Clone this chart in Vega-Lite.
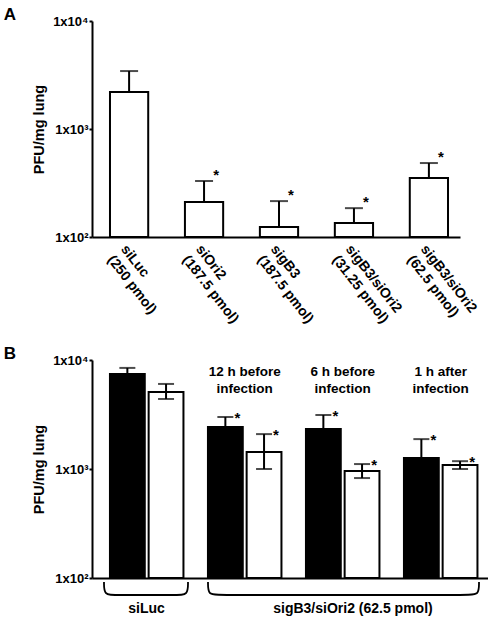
{
  "$schema": "https://vega.github.io/schema/vega-lite/v6.json",
  "padding": {"left": 3, "top": 6, "right": 0, "bottom": 0},
  "background": "white",
  "config": {
    "font": "Liberation Sans",
    "view": {"stroke": null},
    "axis": {
      "grid": false,
      "domainColor": "black",
      "domainWidth": 2,
      "tickColor": "black",
      "tickWidth": 2,
      "tickSize": 3,
      "labelColor": "black",
      "labelFontWeight": "bold",
      "labelFontSize": 13,
      "titleColor": "black",
      "titleFontWeight": "bold",
      "titleFontSize": 14.5
    },
    "title": {"fontSize": 17, "fontWeight": "bold", "color": "black", "anchor": "start", "frame": "bounds", "offset": -9}
  },
  "datasets": {
    "panelA": [
      {"label": "siLuc\n(250 pmol)", "mean": 2200, "upper": 3440, "star": ""},
      {"label": "siOri2\n(187.5 pmol)", "mean": 211, "upper": 330, "star": "*"},
      {"label": "sigB3\n(187.5 pmol)", "mean": 124, "upper": 215, "star": "*"},
      {"label": "sigB3/siOri2\n(31.25 pmol)", "mean": 135, "upper": 185, "star": "*"},
      {"label": "sigB3/siOri2\n(62.5 pmol)", "mean": 352, "upper": 484, "star": "*"}
    ],
    "panelB": [
      {"group": "siLuc", "series": "black", "mean": 7450, "lower": null, "upper": 8460, "star": ""},
      {"group": "siLuc", "series": "white", "mean": 5080, "lower": 4390, "upper": 6030, "star": ""},
      {"group": "12h", "series": "black", "mean": 2430, "lower": null, "upper": 3000, "star": "*"},
      {"group": "12h", "series": "white", "mean": 1430, "lower": 1000, "upper": 2090, "star": "*"},
      {"group": "6h", "series": "black", "mean": 2330, "lower": null, "upper": 3130, "star": "*"},
      {"group": "6h", "series": "white", "mean": 959, "lower": 826, "upper": 1110, "star": "*"},
      {"group": "1h", "series": "black", "mean": 1260, "lower": null, "upper": 1880, "star": "*"},
      {"group": "1h", "series": "white", "mean": 1090, "lower": 1000, "upper": 1180, "star": "*"}
    ],
    "groupNotes": [
      {"group": "12h", "note": "12 h before\ninfection"},
      {"group": "6h", "note": "6 h before\ninfection"},
      {"group": "1h", "note": "1 h after\ninfection"}
    ],
    "brackets": [
      {"bracket": 1, "i": 0, "pos": 0.1224, "depth": -1.8},
      {"bracket": 1, "i": 1, "pos": 0.1224, "depth": -7.8},
      {"bracket": 1, "i": 2, "pos": 0.2324, "depth": -7.8},
      {"bracket": 1, "i": 3, "pos": 0.8696, "depth": -7.8},
      {"bracket": 1, "i": 4, "pos": 0.9796, "depth": -7.8},
      {"bracket": 1, "i": 5, "pos": 0.9796, "depth": -1.8},
      {"bracket": 2, "i": 0, "pos": 1.1837, "depth": -1.8},
      {"bracket": 2, "i": 1, "pos": 1.1837, "depth": -7.8},
      {"bracket": 2, "i": 2, "pos": 1.2937, "depth": -7.8},
      {"bracket": 2, "i": 3, "pos": 3.839, "depth": -7.8},
      {"bracket": 2, "i": 4, "pos": 3.949, "depth": -7.8},
      {"bracket": 2, "i": 5, "pos": 3.949, "depth": -1.8}
    ],
    "bracketLabels": [
      {"text": "siLuc", "pos": 0.556, "depth": -16},
      {"text": "sigB3/siOri2 (62.5 pmol)", "pos": 2.663, "depth": -16}
    ]
  },
  "spacing": 19,
  "vconcat": [
    {
      "title": {"text": "A", "dx": -28},
      "width": 368,
      "height": 216,
      "data": {"name": "panelA"},
      "encoding": {
        "x": {
          "field": "label",
          "type": "nominal",
          "sort": null,
          "scale": {"paddingInner": 0.49, "paddingOuter": 0.2, "align": 0.6},
          "axis": {
            "title": null,
            "ticks": false,
            "labelAngle": 52,
            "labelAlign": "left",
            "labelBaseline": "top",
            "labelPadding": 5,
            "labelFontSize": 14,
            "labelLineHeight": 17,
            "labelLimit": 300,
            "labelExpr": "split(datum.label, '\\n')"
          }
        }
      },
      "layer": [
        {
          "mark": {"type": "bar", "fill": "white", "stroke": "black", "strokeWidth": 2},
          "encoding": {
            "y": {
              "field": "mean",
              "type": "quantitative",
              "scale": {"type": "log", "domain": [100, 10000], "nice": false},
              "axis": {
                "values": [100, 1000, 10000],
                "labelPadding": 1,
                "titlePadding": 6,
                "labelExpr": "datum.value >= 10000 ? '1x10\u2074' : datum.value >= 1000 ? '1x10\u00b3' : '1x10\u00b2'"
              },
              "title": "PFU/mg lung"
            },
            "y2": {"datum": 100}
          }
        },
        {
          "mark": {"type": "rule", "color": "black", "strokeWidth": 2},
          "encoding": {
            "y": {"field": "mean", "type": "quantitative"},
            "y2": {"field": "upper"}
          }
        },
        {
          "mark": {"type": "tick", "color": "black", "size": 18, "thickness": 2},
          "encoding": {
            "y": {"field": "upper", "type": "quantitative"}
          }
        },
        {
          "transform": [{"filter": "datum.star != ''"}],
          "mark": {"type": "text", "fontSize": 15, "fontWeight": "bold", "color": "black", "align": "center", "baseline": "alphabetic", "dx": 12, "dy": -1},
          "encoding": {
            "y": {"field": "upper", "type": "quantitative"},
            "text": {"field": "star"}
          }
        }
      ]
    },
    {
      "title": {"text": "B", "dx": -28},
      "width": 396,
      "height": 218,
      "resolve": {"scale": {"x": "independent", "y": "independent"}},
      "layer": [
        {
          "layer": [
            {
              "data": {"name": "panelB"},
              "mark": {"type": "bar", "stroke": "black", "strokeWidth": 2},
              "encoding": {
                "x": {
                  "field": "group",
                  "type": "nominal",
                  "scale": {"domain": ["siLuc", "12h", "6h", "1h"], "paddingInner": 0.25, "paddingOuter": 0.1454, "align": 0.63},
                  "axis": {"title": null, "labels": false, "ticks": false}
                },
                "xOffset": {
                  "field": "series",
                  "type": "nominal",
                  "scale": {"domain": ["black", "white"], "paddingInner": 0.1, "paddingOuter": 0}
                },
                "y": {
                  "field": "mean",
                  "type": "quantitative",
                  "scale": {"type": "log", "domain": [100, 10000], "nice": false},
                  "axis": {
                    "values": [100, 1000, 10000],
                    "labelPadding": 1,
                    "titlePadding": 6,
                    "labelExpr": "datum.value >= 10000 ? '1x10\u2074' : datum.value >= 1000 ? '1x10\u00b3' : '1x10\u00b2'"
                  },
                  "title": "PFU/mg lung"
                },
                "y2": {"datum": 100},
                "color": {
                  "field": "series",
                  "type": "nominal",
                  "scale": {"domain": ["black", "white"], "range": ["black", "white"]},
                  "legend": null
                }
              }
            },
            {
              "data": {"name": "panelB"},
              "mark": {"type": "rule", "color": "black", "strokeWidth": 2},
              "encoding": {
                "x": {"field": "group", "type": "nominal"},
                "xOffset": {"field": "series", "type": "nominal"},
                "y": {"field": "mean", "type": "quantitative"},
                "y2": {"field": "upper"}
              }
            },
            {
              "data": {"name": "panelB"},
              "transform": [{"filter": "isValid(datum.lower)"}],
              "mark": {"type": "rule", "color": "black", "strokeWidth": 2},
              "encoding": {
                "x": {"field": "group", "type": "nominal"},
                "xOffset": {"field": "series", "type": "nominal"},
                "y": {"field": "lower", "type": "quantitative"},
                "y2": {"field": "mean"}
              }
            },
            {
              "data": {"name": "panelB"},
              "mark": {"type": "tick", "color": "black", "size": 16, "thickness": 2},
              "encoding": {
                "x": {"field": "group", "type": "nominal"},
                "xOffset": {"field": "series", "type": "nominal"},
                "y": {"field": "upper", "type": "quantitative"}
              }
            },
            {
              "data": {"name": "panelB"},
              "transform": [{"filter": "isValid(datum.lower)"}],
              "mark": {"type": "tick", "color": "black", "size": 16, "thickness": 2},
              "encoding": {
                "x": {"field": "group", "type": "nominal"},
                "xOffset": {"field": "series", "type": "nominal"},
                "y": {"field": "lower", "type": "quantitative"}
              }
            },
            {
              "data": {"name": "panelB"},
              "transform": [{"filter": "datum.star != ''"}],
              "mark": {"type": "text", "fontSize": 15, "fontWeight": "bold", "color": "black", "align": "center", "baseline": "alphabetic", "dx": 12, "dy": 6},
              "encoding": {
                "x": {"field": "group", "type": "nominal"},
                "xOffset": {"field": "series", "type": "nominal"},
                "y": {"field": "upper", "type": "quantitative"},
                "text": {"field": "star"}
              }
            },
            {
              "data": {"name": "groupNotes"},
              "mark": {"type": "text", "fontSize": 13.5, "fontWeight": "bold", "color": "black", "align": "center", "baseline": "alphabetic", "lineBreak": "\n", "lineHeight": 17},
              "encoding": {
                "x": {"field": "group", "type": "nominal"},
                "y": {"datum": 7130},
                "text": {"field": "note"}
              }
            }
          ]
        },
        {
          "layer": [
            {
              "data": {"name": "brackets"},
              "mark": {"type": "line", "color": "black", "strokeWidth": 1.8, "interpolate": "basis", "clip": false},
              "encoding": {
                "x": {"field": "pos", "type": "quantitative", "scale": {"domain": [0, 4.0408], "nice": false, "zero": false}, "axis": null},
                "y": {"field": "depth", "type": "quantitative", "scale": {"domain": [0, 100], "nice": false, "zero": false}, "axis": null},
                "detail": {"field": "bracket"},
                "order": {"field": "i"}
              }
            },
            {
              "data": {"name": "bracketLabels"},
              "mark": {"type": "text", "fontSize": 14, "fontWeight": "bold", "color": "black", "align": "center", "baseline": "alphabetic"},
              "encoding": {
                "x": {"field": "pos", "type": "quantitative"},
                "y": {"field": "depth", "type": "quantitative"},
                "text": {"field": "text"}
              }
            }
          ]
        }
      ]
    }
  ]
}
